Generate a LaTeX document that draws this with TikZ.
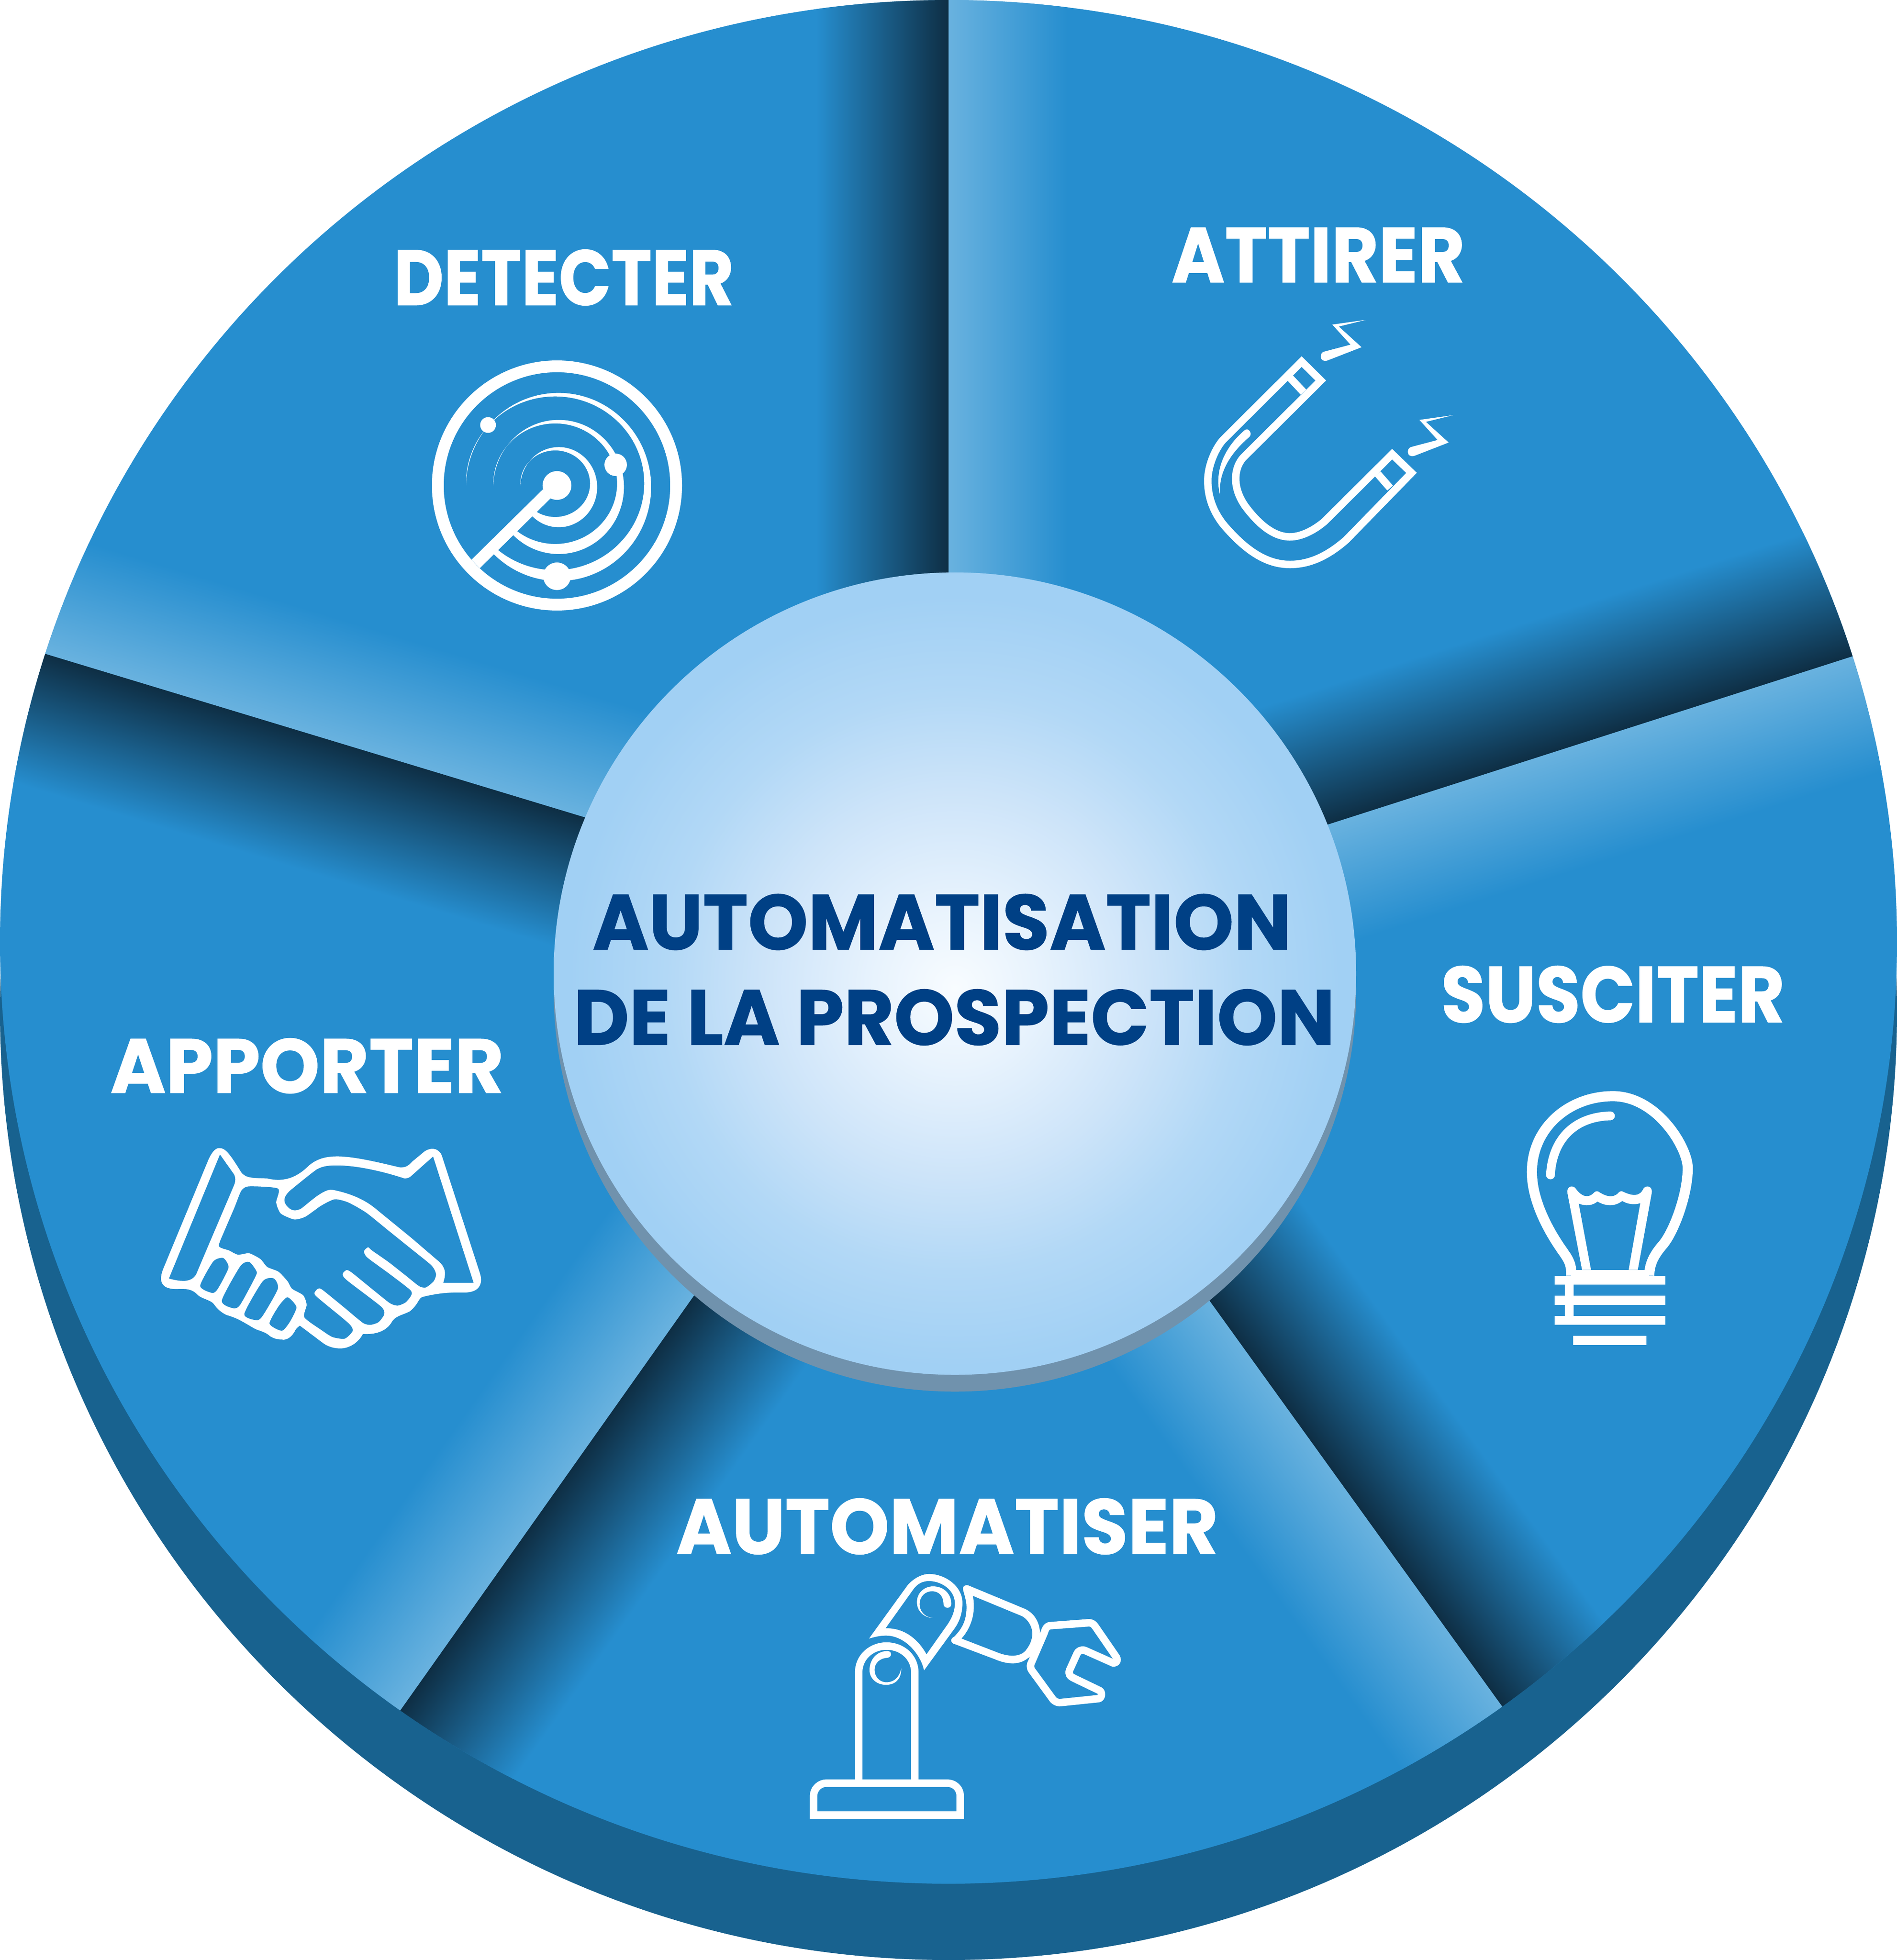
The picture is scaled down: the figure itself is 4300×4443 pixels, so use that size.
\documentclass[tikz,border=0pt]{standalone}
\usepackage{fontspec}
\setmainfont{Poppins}[BoldFeatures={FakeBold=0.8}]
\usepackage{graphicx}

\definecolor{wheelbase}{HTML}{268ECF}
\definecolor{wheelrim}{HTML}{18628F}
\definecolor{wheeldark}{HTML}{0E2E44}
\definecolor{wheellight}{HTML}{69B2DF}
\definecolor{hubshadow}{HTML}{7092AD}
\definecolor{hubedge}{HTML}{A1D0F4}
\definecolor{hubcore}{HTML}{F8FCFF}
\definecolor{hubnear}{HTML}{E8F3FD}
\definecolor{hubmid}{HTML}{CDE4F9}
\definecolor{hubfar}{HTML}{B2D8F6}
\definecolor{hubtext}{HTML}{004085}

\pgfdeclareradialshading{hubshade}{\pgfpoint{0bp}{-0.9bp}}{color(0bp)=(hubcore); color(5bp)=(hubnear); color(12bp)=(hubmid); color(18bp)=(hubfar); color(24bp)=(hubedge); color(50bp)=(hubedge)}

\tikzset{
	wheellabel/.style={inner sep=0pt, text=white},
	hublabel/.style={inner sep=0pt, text=hubtext},
	iconline/.style={draw=white, line width=1.7pt, line join=miter},
	iconfill/.style={fill=white, even odd rule},
}
\newcommand{\fitcaps}[3]{\resizebox{#1pt}{#2pt}{\bfseries #3}}

\begin{document}
\begin{tikzpicture}[x=0.1pt, y=-0.1pt]
	\path[fill=white, use as bounding box] (0,0) rectangle (4300,4443);

	\fill[wheelrim] (2150,2293) ellipse [x radius=2150, y radius=2150];
	\fill[wheelbase] (2150,2135) ellipse [x radius=2150, y radius=2135];

	% bands on both sides of each cut
	\begin{scope}
		\clip (2150,2135) ellipse [x radius=2150, y radius=2135];
		\foreach \px/\py/\ang in {2150/0/-90, 4201/1487/197.78, 3405/3868/125.8, 909/3875/54.7, 102/1482/-16.86} {
			\begin{scope}[transform canvas={shift={(\px,\py)}, rotate=\ang}]
				\shade[bottom color=wheellight, top color=wheelbase] (-10pt,0pt) rectangle (150pt,27pt);
				\shade[top color=wheeldark, bottom color=wheelbase] (-10pt,-30pt) rectangle (150pt,0pt);
			\end{scope}
		}
	\end{scope}

	\fill[hubshadow] (2164.5,2245) circle [radius=909.5];
	\shade[shading=hubshade] (2164.5,2207) circle [radius=909.5];

	\node[hublabel] (hubtop) at (2135,2090) {\fitcaps{158.4}{12.6}{AUTOMATISATION}};
	\node[hublabel] (hubbottom) at (2163,2306) {\fitcaps{172.6}{12.6}{DE LA PROSPECTION}};
	\node[wheellabel] (detecter) at (1278,629) {\fitcaps{77.1}{12.6}{DETECTER}};
	\node[wheellabel] (attirer) at (2988,578) {\fitcaps{66.5}{12.4}{ATTIRER}};
	\node[wheellabel] (susciter) at (3656,2254) {\fitcaps{77.9}{12.8}{SUSCITER}};
	\node[wheellabel] (apporter) at (696,2416) {\fitcaps{89.2}{12.4}{APPORTER}};
	\node[wheellabel] (automatiser) at (2147,3460) {\fitcaps{122.9}{12.6}{AUTOMATISER}};

	% radar
	\begin{scope}[shift={(900,750)}, x=0.04464pt, y=-0.04464pt]
		\fill[iconfill] (812,785) circle [radius=635] (812,785) circle [radius=575];
		\begin{scope}
			\clip (812,785) -- (100,785) -- (100,100) -- (1500,100) -- (1500,1500) -- (300,1500) -- (300,1282) -- cycle;
			\fill[iconfill] (821,793.5) ellipse [x radius=195, y radius=203.5] (803,776) ellipse [x radius=177, y radius=169];
			\fill[iconfill] (820.5,792.5) ellipse [x radius=331.5, y radius=340.5] (803,776) ellipse [x radius=314, y radius=306];
			\fill[iconfill] (820,792.5) ellipse [x radius=470, y radius=477.5] (802.5,774) ellipse [x radius=452.5, y radius=441];
		\end{scope}
		\fill[white] (740,805) -- (378,1162) -- (420,1205) -- (780,850) -- cycle;
		\fill[white] (812,785) circle [radius=73];
		\fill[white] (462,478) circle [radius=40];
		\fill[white] (1110,680) circle [radius=57];
		\fill[white] (812,1246) circle [radius=70];
	\end{scope}

	% magnet
	\begin{scope}[shift={(2600,650)}, x=0.05102pt, y=-0.04464pt]
		\draw[iconline] (687,380) -- (772,476) -- (432,862) .. controls (385,915) and (375,1020) .. (440,1120) .. controls (500,1210) and (565,1270) .. (635,1270) .. controls (690,1270) and (750,1230) .. (790,1190) -- (1089,850) -- (1175,945) -- (885,1285) .. controls (800,1370) and (720,1410) .. (635,1410) .. controls (530,1410) and (440,1340) .. (345,1215) .. controls (290,1140) and (270,1060) .. (270,985) .. controls (270,900) and (310,810) .. (340,775) -- cycle;
		\draw[iconline] (635,462) -- (695,535);
		\draw[iconline] (1025,950) -- (1080,1022);
		\fill[white] (432,730) .. controls (350,810) and (295,930) .. (325,1060) .. controls (315,950) and (365,850) .. (455,762) .. controls (470,745) and (450,710) .. (432,730) -- cycle;
		\foreach \dx/\dy in {0/0, 387/484} {
			\fill[white, shift={(\dx,\dy)}] (973,168) -- (823,192) -- (904,294) -- (785,330) .. controls (765,337) and (765,385) .. (800,375) -- (953,307) -- (852,202) -- cycle;
		}
	\end{scope}

	% bulb
	\begin{scope}[shift={(3350,2400)}, x=0.03827pt, y=-0.04464pt]
		\draw[iconline, line width=2.3pt] (552,1101) -- (552,1075) .. controls (550,1030) and (520,1000) .. (505,980) .. controls (430,890) and (320,730) .. (320,575) .. controls (320,350) and (540,190) .. (800,190) .. controls (1060,190) and (1243,450) .. (1243,555) .. controls (1243,690) and (1160,880) .. (1095,945) .. controls (1060,980) and (1015,1030) .. (1015,1101);
		\draw[iconline, line width=2pt, line cap=round] (430,590) .. controls (440,420) and (560,295) .. (785,290);
		\fill[white] (617,1072) -- (530,680) .. controls (525,645) and (565,640) .. (580,660) .. controls (610,695) and (650,715) .. (690,678) .. controls (700,670) and (712,672) .. (720,678) .. controls (770,705) and (810,705) .. (835,678) .. controls (845,670) and (855,672) .. (865,677) .. controls (915,697) and (960,700) .. (980,660) .. controls (995,640) and (1035,645) .. (1030,680) -- (947,1072) -- (893,1072) -- (962,733) .. controls (920,745) and (880,735) .. (855,722) .. controls (820,745) and (770,755) .. (708,725) .. controls (680,745) and (640,750) .. (597,735) -- (670,1072) -- cycle;
		\fill[white] (552,1072) rectangle (1015,1101);
		\fill[white] (455,1101) rectangle (1111,1147);
		\fill[white] (455,1203) rectangle (1111,1249);
		\fill[white] (455,1305) rectangle (1111,1351);
		\fill[white] (565,1407) rectangle (998,1453);
		\fill[white] (515,1147) rectangle (568,1305);
	\end{scope}

	% robot
	\begin{scope}[shift={(1750,3500)}, x=0.0574pt, y=-0.04464pt]
		\draw[iconline] (164,1376) -- (164,1280) .. controls (164,1240) and (190,1214) .. (215,1214) -- (690,1214) .. controls (720,1214) and (743,1240) .. (743,1280) -- (743,1376) -- cycle;
		\draw[iconline] (342,1214) -- (342,655) .. controls (342,570) and (395,518) .. (452,518) .. controls (510,518) and (564,570) .. (564,655) -- (564,1214);
		\fill[white] (455,543) .. controls (410,545) and (385,590) .. (385,640) .. controls (385,685) and (415,715) .. (450,715) .. controls (490,715) and (512,680) .. (510,630) .. controls (505,670) and (485,702) .. (452,702) .. controls (425,702) and (405,675) .. (405,638) .. controls (405,605) and (425,580) .. (455,578) .. controls (475,575) and (475,543) .. (455,543) -- cycle;
		\fill[iconfill] (383,480) -- (535,210) .. controls (565,165) and (600,152) .. (620,152) .. controls (680,152) and (752,210) .. (752,300) .. controls (752,350) and (740,395) .. (720,430) -- (600,642) .. controls (590,570) and (530,465) .. (450,465) .. controls (425,465) and (405,472) .. (383,480) -- cycle
			(448,428) .. controls (520,425) and (575,480) .. (610,560) -- (695,405) .. controls (712,370) and (722,340) .. (722,300) .. controls (722,235) and (670,188) .. (620,188) .. controls (595,188) and (575,200) .. (558,230) -- cycle;
		\fill[white] (636,375) .. controls (600,375) and (572,340) .. (572,295) .. controls (572,250) and (600,215) .. (636,215) .. controls (680,215) and (708,255) .. (708,305) .. controls (708,330) and (678,330) .. (677,305) .. controls (677,265) and (660,240) .. (632,240) .. controls (605,240) and (583,265) .. (583,305) .. controls (583,345) and (605,372) .. (636,375) -- cycle;
		\fill[iconfill] (775,210) -- (1000,330) .. controls (1040,355) and (1058,405) .. (1058,455) .. controls (1058,510) and (1035,560) .. (1010,580) .. controls (990,600) and (970,606) .. (950,606) .. controls (925,606) and (900,596) .. (880,585) -- (715,505) .. controls (703,495) and (705,480) .. (720,470) .. controls (750,430) and (768,390) .. (768,320) .. controls (768,290) and (760,260) .. (755,235) .. controls (750,215) and (762,205) .. (775,210) -- cycle
			(793,263) .. controls (805,340) and (790,420) .. (748,480) -- (895,553) .. controls (915,563) and (935,567) .. (950,567) .. controls (975,567) and (995,555) .. (1005,535) .. controls (1020,510) and (1028,480) .. (1028,455) .. controls (1028,420) and (1010,380) .. (985,365) -- cycle;
		\draw[iconline, line join=round] (1095,415) -- (1250,400) .. controls (1265,400) and (1270,408) .. (1277,420) -- (1360,575) .. controls (1370,600) and (1350,610) .. (1340,600) -- (1235,540) .. controls (1220,535) and (1208,545) .. (1205,555) -- (1175,640) .. controls (1170,660) and (1175,670) .. (1190,680) -- (1295,745) .. controls (1305,755) and (1302,782) .. (1290,785) -- (1140,805) .. controls (1125,807) and (1115,797) .. (1110,790) -- (1025,640) .. controls (1018,625) and (1020,610) .. (1025,600) -- (1075,450) .. controls (1080,430) and (1085,418) .. (1095,415) -- cycle;
	\end{scope}

	% handshake
	\begin{scope}[shift={(320,2540)}, x=0.05102pt, y=-0.03571pt]
		\fill[iconfill]
			(348,175) .. controls (375,175) and (395,215) .. (445,330) .. controls (465,365) and (490,365) .. (560,368) .. controls (610,385) and (670,385) .. (735,300) .. controls (770,250) and (810,228) .. (870,228) .. controls (950,228) and (1060,268) .. (1150,298) .. controls (1175,300) and (1190,285) .. (1205,260) -- (1260,195) .. controls (1300,160) and (1325,190) .. (1335,220) -- (1505,970) .. controls (1520,1040) and (1500,1090) .. (1440,1092) .. controls (1370,1090) and (1320,1095) .. (1250,1120) .. controls (1230,1130) and (1235,1160) .. (1195,1210) .. controls (1165,1235) and (1135,1235) .. (1115,1275) .. controls (1090,1340) and (1040,1360) .. (985,1355) .. controls (965,1410) and (925,1447) .. (885,1447) .. controls (850,1447) and (825,1430) .. (810,1415) -- (705,1302) .. controls (690,1318) and (690,1320) .. (685,1330) .. controls (665,1390) and (635,1395) .. (625,1390) .. controls (600,1392) and (575,1375) .. (565,1360) .. controls (540,1335) and (520,1335) .. (500,1318) .. controls (460,1285) and (430,1255) .. (380,1235) .. controls (350,1215) and (335,1190) .. (320,1160) .. controls (300,1135) and (265,1130) .. (250,1105) .. controls (225,1070) and (205,1068) .. (160,1070) .. controls (100,1072) and (70,1035) .. (100,935) -- (300,245) .. controls (320,185) and (335,175) .. (348,175) -- cycle
			(350,215) -- (412,340) .. controls (420,360) and (420,385) .. (413,410) -- (270,890) -- (245,975) .. controls (235,1000) and (220,1015) .. (195,1018) .. controls (170,1020) and (145,1012) .. (123,1003) -- cycle
			(1297,228) -- (1477,1030) -- (1342,1030) .. controls (1358,960) and (1350,925) .. (1310,880) -- (1200,745) -- (1050,570) .. controls (990,495) and (920,460) .. (850,440) .. controls (810,430) and (740,530) .. (710,560) .. controls (690,575) and (672,572) .. (660,560) .. controls (630,525) and (625,490) .. (665,440) .. controls (700,400) and (750,340) .. (780,310) .. controls (805,290) and (830,285) .. (870,285) .. controls (960,285) and (1080,325) .. (1170,368) .. controls (1185,368) and (1195,360) .. (1205,345) -- cycle
			plot[smooth cycle, tension=.4] coordinates {(480,418) (608,432) (600,520) (620,590) (680,628) (730,610) (800,540) (860,500) (920,520) (1000,585) (1100,700) (1200,815) (1290,920) (1310,975) (1300,1020) (1265,1060) (1235,1052) (1180,990) (1100,900) (1025,825) (1008,805) (990,830) (1005,870) (1100,970) (1195,1075) (1200,1110) (1175,1155) (1140,1175) (1105,1160) (1030,1075) (935,965) (912,950) (895,975) (915,1015) (1065,1180) (1080,1230) (1055,1280) (1020,1297) (985,1285) (900,1185) (805,1075) (785,1068) (770,1095) (785,1125) (920,1285) (940,1335) (905,1385) (850,1375) (800,1330) (725,1250) (735,1170) (720,1110) (670,1068) (650,1020) (610,960) (560,930) (530,880) (480,843) (430,852) (390,825) (345,797) (370,700) (415,550) (445,445)}
			plot[smooth cycle, tension=.4] coordinates {(320,895) (365,873) (388,935) (340,1070) (315,1095) (262,1050)}
			plot[smooth cycle, tension=.4] coordinates {(440,925) (480,898) (510,950) (510,985) (440,1170) (408,1192) (358,1143)}
			plot[smooth cycle, tension=.4] coordinates {(540,1020) (590,1003) (607,1070) (540,1240) (512,1268) (458,1228)}
			plot[smooth cycle, tension=.4] coordinates {(610,1180) (650,1122) (690,1185) (660,1280) (625,1335) (570,1290)};
	\end{scope}
\end{tikzpicture}
\end{document}
